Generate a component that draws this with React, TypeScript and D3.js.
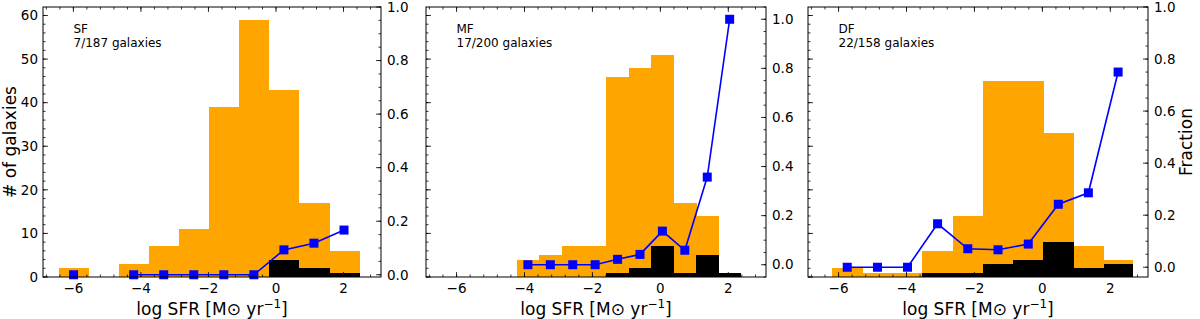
import React from 'react';
import * as d3 from 'd3';

// shared axis ranges (sharex / sharey in the original)
const x_domain = [-6.9, 3.11];
const count_domain = [0, 61.95];

const x_major = [-6, -4, -2, 0, 2];
const count_major = [0, 10, 20, 30, 40, 50, 60];
const frac_major = [0, 0.2, 0.4, 0.6, 0.8, 1.0];

// SF sample
const sf_edges = [-6.44, -5.55, -4.66, -3.77, -2.88, -1.99, -1.1, -0.21, 0.68, 1.57, 2.46];
const sf_all = [2, 0, 3, 7, 11, 39, 59, 43, 17, 6];
const sf_det = [0, 0, 0, 0, 0, 0, 0, 4, 2, 1];
const sf_frac = [0, null, 0, 0, 0, 0, 0, 0.093, 0.118, 0.167];

// MF sample
const mf_edges = [-4.23, -3.57, -2.91, -2.25, -1.59, -0.93, -0.27, 0.39, 1.05, 1.71, 2.37];
const mf_all = [4, 5, 7, 7, 46, 48, 51, 17, 14, 1];
const mf_det = [0, 0, 0, 0, 1, 2, 7, 1, 5, 1];
const mf_frac = [0, 0, 0, 0, 0.022, 0.042, 0.137, 0.059, 0.357, 1.0];

// DF sample
const df_edges = [-6.19, -5.3, -4.41, -3.53, -2.64, -1.75, -0.86, 0.03, 0.91, 1.8, 2.66];
const df_all = [2, 1, 1, 6, 14, 45, 45, 33, 7, 4];
const df_det = [0, 0, 0, 1, 1, 3, 4, 8, 2, 3];
const df_frac = [0, 0, 0, 0.167, 0.071, 0.067, 0.089, 0.242, 0.286, 0.75];

const panels = [
    { name: 'SF', note: '7/187 galaxies', edges: sf_edges, all: sf_all, det: sf_det, frac: sf_frac, frac_domain: [-0.0083, 1.0], left: 43, right: 381 },
    { name: 'MF', note: '17/200 galaxies', edges: mf_edges, all: mf_all, det: mf_det, frac: mf_frac, frac_domain: [-0.05, 1.05], left: 426, right: 766 },
    { name: 'DF', note: '22/158 galaxies', edges: df_edges, all: df_all, det: df_det, frac: df_frac, frac_domain: [-0.0375, 1.0], left: 808, right: 1148 },
];

const top = 7;
const bottom = 277;
const major_len = 5;
const minor_len = 2.5;
const tick_font = 13.5;
const label_font = 17;

function Panel({ p, index }) {
    const x = d3.scaleLinear(x_domain, [p.left, p.right]);
    const y = d3.scaleLinear(count_domain, [bottom, top]);
    const yf = d3.scaleLinear(p.frac_domain, [bottom, top]);

    const x_minor = d3.range(-17, 8).map((i) => i * 0.4).filter((v) => v >= x_domain[0] && v <= x_domain[1]);
    const count_minor = d3.range(0, 31).map((i) => i * 2).filter((v) => v <= count_domain[1]);
    const frac_minor = d3.range(-1, 22).map((i) => i * 0.05).filter((v) => v >= p.frac_domain[0] - 1e-9 && v <= p.frac_domain[1] + 1e-9);

    const bins = p.all.map((n, i) => ({ x0: p.edges[i], x1: p.edges[i + 1], n, d: p.det[i], f: p.frac[i] }));
    const centers = bins.map((b) => ({ xc: (b.x0 + b.x1) / 2, f: b.f }));

    const line = d3
        .line()
        .defined((d) => d.f !== null)
        .x((d) => x(d.xc))
        .y((d) => yf(d.f));

    const ms = 9;
    const mid = (p.left + p.right) / 2;

    return (
        <g>
            <g shapeRendering="crispEdges">
                {bins.filter((b) => b.n > 0).map((b, i) => (
                    <rect key={'o' + i} x={x(b.x0)} y={y(b.n)} width={x(b.x1) - x(b.x0) + 0.5} height={bottom - y(b.n)} fill="#FFA500" />
                ))}
                {bins.filter((b) => b.d > 0).map((b, i) => (
                    <rect key={'k' + i} x={x(b.x0)} y={y(b.d)} width={x(b.x1) - x(b.x0) + 0.5} height={bottom - y(b.d)} fill="#000" />
                ))}
            </g>

            {/* ticks point inward on every side */}
            <g stroke="#000" strokeWidth={0.8}>
                {x_minor.map((v, i) => (
                    <g key={'xm' + i}>
                        <line x1={x(v)} x2={x(v)} y1={bottom} y2={bottom - minor_len} />
                        <line x1={x(v)} x2={x(v)} y1={top} y2={top + minor_len} />
                    </g>
                ))}
                {x_major.map((v, i) => (
                    <g key={'xM' + i}>
                        <line x1={x(v)} x2={x(v)} y1={bottom} y2={bottom - major_len} />
                        <line x1={x(v)} x2={x(v)} y1={top} y2={top + major_len} />
                    </g>
                ))}
                {count_minor.map((v, i) => (
                    <line key={'ym' + i} x1={p.left} x2={p.left + minor_len} y1={y(v)} y2={y(v)} />
                ))}
                {count_major.map((v, i) => (
                    <line key={'yM' + i} x1={p.left} x2={p.left + major_len} y1={y(v)} y2={y(v)} />
                ))}
                {frac_minor.map((v, i) => (
                    <line key={'fm' + i} x1={p.right} x2={p.right - minor_len} y1={yf(v)} y2={yf(v)} />
                ))}
                {frac_major.map((v, i) => (
                    <line key={'fM' + i} x1={p.right} x2={p.right - major_len} y1={yf(v)} y2={yf(v)} />
                ))}
            </g>

            {x_major.map((v, i) => (
                <text key={'xl' + i} x={x(v)} y={293} textAnchor="middle" fontSize={tick_font}>
                    {v < 0 ? '\u2212' + Math.abs(v) : String(v)}
                </text>
            ))}
            {index === 0 &&
                count_major.map((v, i) => (
                    <text key={'yl' + i} x={p.left - 5} y={y(v)} dy="0.35em" textAnchor="end" fontSize={tick_font}>
                        {v}
                    </text>
                ))}
            {frac_major.map((v, i) => (
                <text key={'fl' + i} x={p.right + 6} y={yf(v)} dy="0.35em" textAnchor="start" fontSize={tick_font}>
                    {v.toFixed(1)}
                </text>
            ))}

            <path d={line(centers)} fill="none" stroke="#0000ff" strokeWidth={1.6} />
            {centers.filter((c) => c.f !== null).map((c, i) => (
                <rect key={'s' + i} x={x(c.xc) - ms / 2} y={yf(c.f) - ms / 2} width={ms} height={ms} fill="#0000ff" />
            ))}

            <rect x={p.left} y={top} width={p.right - p.left} height={bottom - top} fill="none" stroke="#000" strokeWidth={1} />

            <text x={p.left + 30.5} y={33} fontSize={12}>{p.name}</text>
            <text x={p.left + 30.5} y={47} fontSize={12}>{p.note}</text>

            <text x={mid} y={315} textAnchor="middle" fontSize={label_font}>
                log SFR [M⊙ yr<tspan dy={-7} fontSize={12}>−1</tspan><tspan dy={7}>]</tspan>
            </text>
        </g>
    );
}

export default function App() {
    return (
        <svg width={1200} height={319} style={{ position: 'absolute', left: 0, top: 0, background: '#fff' }} fontFamily="DejaVu Sans">
            {panels.map((p, i) => (
                <Panel key={p.name} p={p} index={i} />
            ))}
            <text transform={`translate(16,${(top + bottom) / 2}) rotate(-90)`} textAnchor="middle" fontSize={label_font}>
                # of galaxies
            </text>
            <text transform={`translate(1192,${(top + bottom) / 2}) rotate(-90)`} textAnchor="middle" fontSize={label_font}>
                Fraction
            </text>
        </svg>
    );
}
